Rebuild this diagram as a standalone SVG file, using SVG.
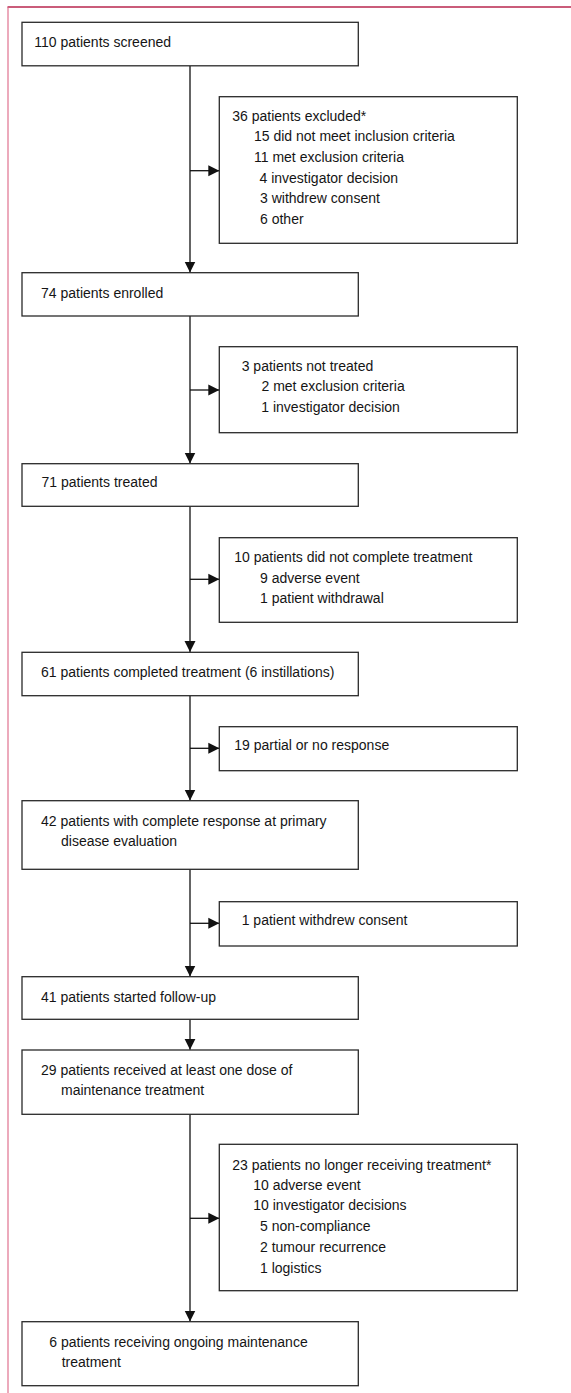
<svg xmlns="http://www.w3.org/2000/svg" width="571" height="1393" viewBox="0 0 571 1393">
<style>
.box{fill:#fff;stroke:#2a2a2a;stroke-width:1.3}
.t{font-family:"Liberation Sans",Arial,sans-serif;font-size:14px;fill:#151515}
.ln{stroke:#111;stroke-width:1.3;fill:none}
</style>
<defs>
<marker id="ah" markerUnits="userSpaceOnUse" markerWidth="12" markerHeight="12" viewBox="0 0 12 12" refX="11" refY="6" orient="auto">
<path d="M0,0.5 L11,6 L0,11.5 Z" fill="#111"/>
</marker>
</defs>
<rect width="571" height="1393" fill="#fff"/>
<g id="frame">
<line x1="7.5" y1="7" x2="571" y2="7" stroke="#b8264e" stroke-width="1.3"/>
<line x1="8" y1="7" x2="8" y2="1393" stroke="#dc6485" stroke-width="1.1"/>
</g>
<g id="connectors">
<line class="ln" x1="190" y1="66" x2="190" y2="272.5" marker-end="url(#ah)"/>
<line class="ln" x1="190" y1="170.7" x2="219.3" y2="170.7" marker-end="url(#ah)"/>
<line class="ln" x1="190" y1="316" x2="190" y2="463.5" marker-end="url(#ah)"/>
<line class="ln" x1="190" y1="390" x2="219.3" y2="390" marker-end="url(#ah)"/>
<line class="ln" x1="190" y1="506.5" x2="190" y2="652" marker-end="url(#ah)"/>
<line class="ln" x1="190" y1="579.3" x2="219.3" y2="579.3" marker-end="url(#ah)"/>
<line class="ln" x1="190" y1="695.5" x2="190" y2="800.5" marker-end="url(#ah)"/>
<line class="ln" x1="190" y1="748.3" x2="219.3" y2="748.3" marker-end="url(#ah)"/>
<line class="ln" x1="190" y1="869.3" x2="190" y2="976.5" marker-end="url(#ah)"/>
<line class="ln" x1="190" y1="923.3" x2="219.3" y2="923.3" marker-end="url(#ah)"/>
<line class="ln" x1="190" y1="1019.3" x2="190" y2="1049.8" marker-end="url(#ah)"/>
<line class="ln" x1="190" y1="1114.3" x2="190" y2="1321.5" marker-end="url(#ah)"/>
<line class="ln" x1="190" y1="1218.3" x2="219.3" y2="1218.3" marker-end="url(#ah)"/>
</g>
<g id="n1"><rect class="box" x="22" y="22.3" width="336.3" height="43.5"/>
<text class="t" x="34.3" y="47">110 patients screened</text></g>
<g id="nA"><rect class="box" x="219.3" y="96.7" width="298" height="146.6"/>
<text class="t" x="232.3" y="120.7">36 patients excluded*</text>
<text class="t" x="254" y="141.2">15 did not meet inclusion criteria</text>
<text class="t" x="254" y="161.8">11 met exclusion criteria</text>
<text class="t" x="259.5" y="182.5">4 investigator decision</text>
<text class="t" x="260" y="203.2">3 withdrew consent</text>
<text class="t" x="260" y="223.5">6 other</text></g>
<g id="n2"><rect class="box" x="22" y="272.7" width="336.3" height="43.3"/>
<text class="t" x="41" y="298.3">74 patients enrolled</text></g>
<g id="nB"><rect class="box" x="219.3" y="346.7" width="298" height="86"/>
<text class="t" x="241.7" y="371">3 patients not treated</text>
<text class="t" x="261.5" y="391.2">2 met exclusion criteria</text>
<text class="t" x="261.3" y="411.7">1 investigator decision</text></g>
<g id="n3"><rect class="box" x="22" y="463.7" width="336.3" height="42.6"/>
<text class="t" x="41.5" y="487">71 patients treated</text></g>
<g id="nC"><rect class="box" x="219.3" y="537.7" width="298" height="84.6"/>
<text class="t" x="234.3" y="561.7">10 patients did not complete treatment</text>
<text class="t" x="260" y="582.7">9 adverse event</text>
<text class="t" x="260" y="603.3">1 patient withdrawal</text></g>
<g id="n4"><rect class="box" x="22" y="652.3" width="336.3" height="43.4"/>
<text class="t" x="41" y="677.3">61 patients completed treatment (6 instillations)</text></g>
<g id="nD"><rect class="box" x="219.3" y="726.7" width="298" height="44"/>
<text class="t" x="234.3" y="750">19 partial or no response</text></g>
<g id="n5"><rect class="box" x="22" y="800.7" width="336.3" height="68.6"/>
<text class="t" x="41" y="826">42 patients with complete response at primary</text>
<text class="t" x="61" y="846">disease evaluation</text></g>
<g id="nE"><rect class="box" x="219.3" y="901.7" width="298" height="44.3"/>
<text class="t" x="241.7" y="925">1 patient withdrew consent</text></g>
<g id="n6"><rect class="box" x="22" y="976.7" width="336.3" height="42.6"/>
<text class="t" x="41" y="1001.7">41 patients started follow-up</text></g>
<g id="n7"><rect class="box" x="22" y="1050" width="336.3" height="64.3"/>
<text class="t" x="41" y="1075">29 patients received at least one dose of</text>
<text class="t" x="61" y="1095">maintenance treatment</text></g>
<g id="nF"><rect class="box" x="219.3" y="1144.3" width="298" height="146.4"/>
<text class="t" x="232.3" y="1170">23 patients no longer receiving treatment*</text>
<text class="t" x="253.3" y="1189.8">10 adverse event</text>
<text class="t" x="253.3" y="1210.3">10 investigator decisions</text>
<text class="t" x="260" y="1230.9">5 non-compliance</text>
<text class="t" x="260" y="1251.7">2 tumour recurrence</text>
<text class="t" x="260" y="1272.7">1 logistics</text></g>
<g id="n8"><rect class="box" x="22" y="1321.7" width="336.3" height="64"/>
<text class="t" x="49.3" y="1346.7">6 patients receiving ongoing maintenance</text>
<text class="t" x="61.7" y="1366.7">treatment</text></g>
</svg>
